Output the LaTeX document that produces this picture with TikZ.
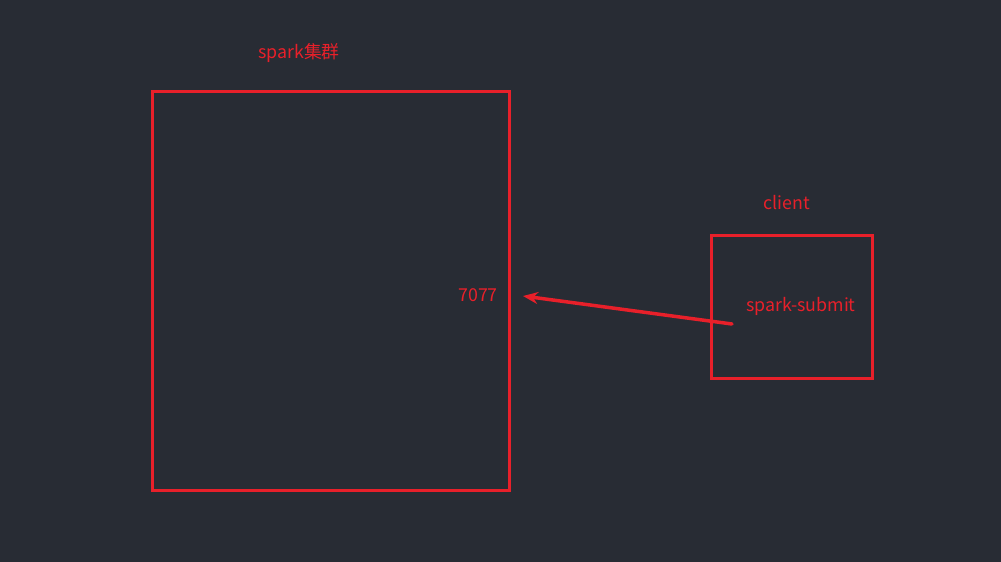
\documentclass[tikz,border=0pt]{standalone}
\usepackage{fontspec}
\setmainfont{Noto Sans CJK SC}
\usepackage{tikz}
\usetikzlibrary{arrows.meta}
\usepackage{xcolor}
\definecolor{bgdark}{HTML}{282C34}
\definecolor{linered}{HTML}{E8202A}

\begin{document}
\begin{tikzpicture}[x=1pt,y=-1pt,
    box/.style={draw=linered,line width=3pt,inner sep=0pt},
    lbl/.style={text=linered,font=\fontsize{17.8}{21}\selectfont,inner sep=0pt}]
  \fill[bgdark] (0,0) rectangle (1001,562);
  \useasboundingbox (0,0) rectangle (1001,562);

  \node[box,minimum width=357pt,minimum height=399pt] (cluster) at (330.5,290.5) {};
  \node[box,minimum width=161pt,minimum height=143pt] (client) at (791.5,306.5) {};

  \node[lbl] (clustername) at (299,53) {spark集群};
  \node[lbl] (clientname) at (787,203) {client};
  \node[lbl] (port) at (478,295) {7077};
  \node[lbl] (submit) at (801,306) {spark-submit};

  % submit goes to the master port
  \coordinate (tail) at (732,324);
  \coordinate (head) at (523,296);
  \draw[linered,line width=3.5pt,line cap=round,-{Stealth[length=15pt,width=12pt]}] (tail) -- (head);

\end{tikzpicture}
\end{document}
